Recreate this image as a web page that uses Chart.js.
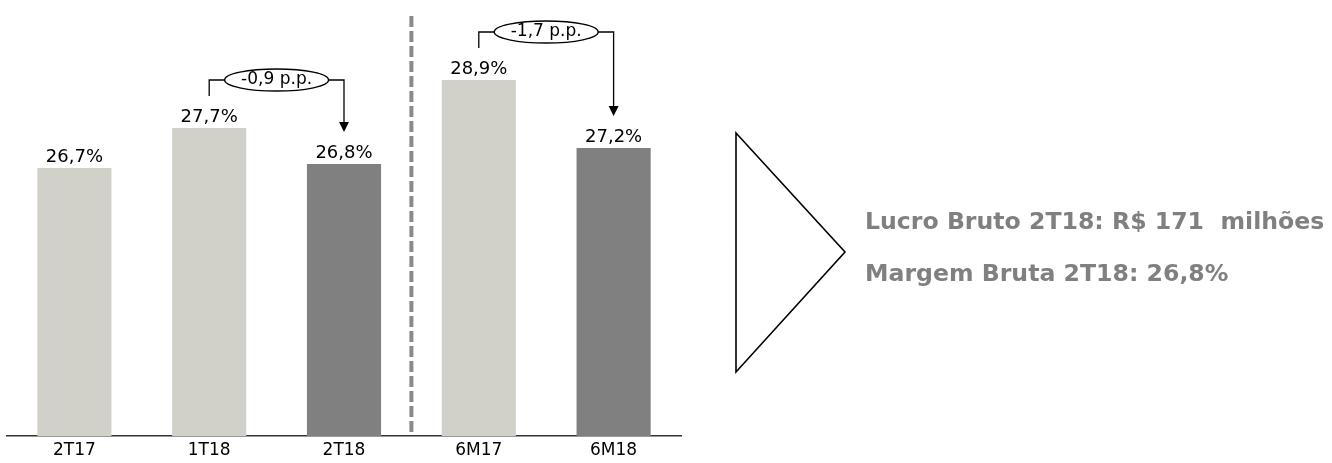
<!DOCTYPE html>
<html>
<head>
<meta charset="utf-8">
<script src="https://cdn.jsdelivr.net/npm/chart.js@4.4.0/dist/chart.umd.min.js"></script>
<style>
  body { margin: 0; background: #fff; }
</style>
</head>
<body>
<canvas id="margemChart" width="1332" height="463"></canvas>
<script>
var periodos = ["2T17", "1T18", "2T18", "6M17", "6M18"];
var margem = [26.7, 27.7, 26.8, 28.9, 27.2];
var corBarras = ["#d1d1c9", "#d1d1c9", "#808080", "#d1d1c9", "#808080"];

// comparações: barra de origem, barra de destino, texto da variação
var varDe = [1, 3];
var varPara = [2, 4];
var varTexto = ["-0,9 p.p.", "-1,7 p.p."];

var destaques = ["Lucro Bruto 2T18: R$ 171  milhões", "Margem Bruta 2T18: 26,8%"];

var fonte = "'DejaVu Sans', sans-serif";

function fmt(v) {
  return v.toFixed(1).replace(".", ",") + "%";
}

var extras = {
  id: "extras",
  afterDatasetsDraw: function (chart) {
    var ctx = chart.ctx;
    var area = chart.chartArea;
    var bars = chart.getDatasetMeta(0).data;
    var x = chart.scales.x;

    ctx.save();

    // valores acima das barras
    ctx.fillStyle = "#000";
    ctx.font = "18px " + fonte;
    ctx.textAlign = "center";
    ctx.textBaseline = "alphabetic";
    for (var i = 0; i < bars.length; i++) {
      ctx.fillText(fmt(margem[i]), bars[i].x, bars[i].y - 6);
    }

    // separador trimestre / semestre
    var sep = (x.getPixelForValue(2) + x.getPixelForValue(3)) / 2;
    ctx.strokeStyle = "#8a8a8a";
    ctx.lineWidth = 4;
    ctx.setLineDash([11, 4]);
    ctx.beginPath();
    ctx.moveTo(sep, area.top);
    ctx.lineTo(sep, area.bottom);
    ctx.stroke();
    ctx.setLineDash([]);

    // setas de variação
    for (var k = 0; k < varDe.length; k++) {
      var a = bars[varDe[k]], b = bars[varPara[k]];
      var y1 = a.y - 32, y2 = b.y - 32;
      var nivel = Math.min(a.y, b.y) - 48;
      var cx = (a.x + b.x) / 2;

      ctx.strokeStyle = "#000";
      ctx.lineWidth = 1.3;
      ctx.beginPath();
      ctx.moveTo(a.x, y1);
      ctx.lineTo(a.x, nivel);
      ctx.lineTo(b.x, nivel);
      ctx.lineTo(b.x, y2 - 9);
      ctx.stroke();

      ctx.fillStyle = "#000";
      ctx.beginPath();
      ctx.moveTo(b.x - 5, y2 - 10);
      ctx.lineTo(b.x + 5, y2 - 10);
      ctx.lineTo(b.x, y2);
      ctx.closePath();
      ctx.fill();

      ctx.beginPath();
      ctx.ellipse(cx, nivel, 52, 11, 0, 0, Math.PI * 2);
      ctx.fillStyle = "#fff";
      ctx.fill();
      ctx.stroke();

      ctx.fillStyle = "#000";
      ctx.font = "17px " + fonte;
      ctx.textBaseline = "middle";
      ctx.fillText(varTexto[k], cx, nivel);
      ctx.textBaseline = "alphabetic";
    }

    // destaque à direita
    ctx.strokeStyle = "#000";
    ctx.lineWidth = 1.6;
    ctx.beginPath();
    ctx.moveTo(736, 133);
    ctx.lineTo(845, 252);
    ctx.lineTo(736, 372);
    ctx.closePath();
    ctx.stroke();

    ctx.fillStyle = "#808080";
    ctx.font = "bold 23.6px 'DejaVu Sans', sans-serif";
    ctx.textAlign = "left";
    ctx.fillText(destaques[0], 865, 229);
    ctx.fillText(destaques[1], 865, 281);

    ctx.restore();
  }
};

document.addEventListener("DOMContentLoaded", function () {
  var ctx = document.getElementById("margemChart").getContext("2d");

  var grafico = new Chart(ctx, {
    type: "bar",
    data: {
      labels: periodos,
      datasets: [{
        data: margem,
        backgroundColor: corBarras,
        barPercentage: 0.55,
        categoryPercentage: 1
      }]
    },
    options: {
      responsive: false,
      animation: false,
      layout: {
        padding: { left: 7, right: 651, top: 16, bottom: 0 }
      },
      plugins: {
        legend: { display: false },
        tooltip: { enabled: false }
      },
      scales: {
        x: {
          grid: { display: false, drawTicks: false },
          border: { color: "#333", width: 1.5 },
          ticks: {
            color: "#000",
            padding: 4,
            font: { family: fonte, size: 17 }
          },
          afterFit: function (scale) {
            scale.height = 27;
          }
        },
        y: {
          display: false,
          min: 20,
          max: 30.5
        }
      }
    },
    plugins: [extras]
  });
});
</script>
</body>
</html>
